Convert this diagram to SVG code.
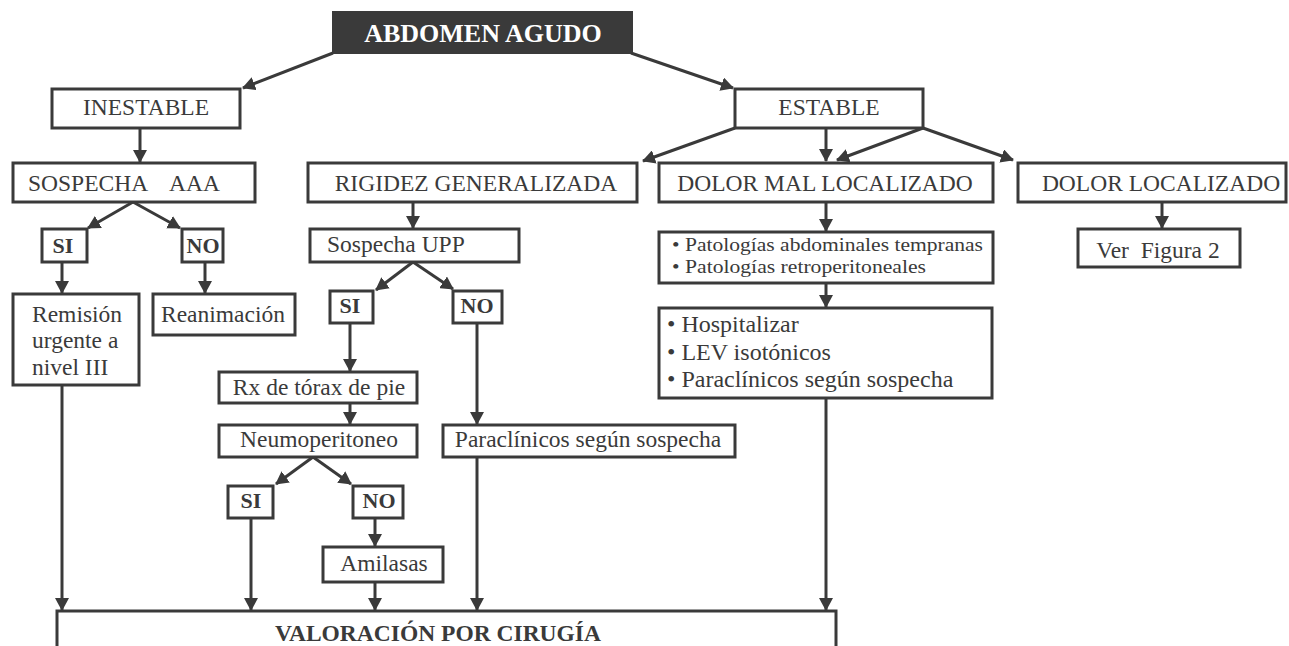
<svg xmlns="http://www.w3.org/2000/svg" width="1289" height="646" viewBox="0 0 1289 646">
<style>
rect.b{fill:#fff;stroke:#3a3a3a;stroke-width:3}
rect.d{fill:#3a3a3a;stroke:#3a3a3a;stroke-width:2}
text{font-family:"Liberation Serif","Times New Roman",serif;fill:#3a3a3a;font-size:23.5px}
text.c{text-anchor:middle}
text.bo{font-weight:bold;font-size:22px}
text.h{font-weight:bold;font-size:26px;fill:#fff}
text.v{font-weight:bold;font-size:23.5px}
text.s{font-size:19px}
text.m{font-size:24px}
#conn line{stroke:#3a3a3a;stroke-width:3;marker-end:url(#ah)}
</style>
<defs>
<marker id="ah" viewBox="0 0 13 14" markerWidth="13" markerHeight="14" refX="12" refY="7" orient="auto" markerUnits="userSpaceOnUse">
<path d="M0,0 L13,7 L0,14 z" fill="#3a3a3a"/>
</marker>
</defs>
<rect width="1289" height="646" fill="#fff"/>
<g id="conn">
<line x1="333" y1="53" x2="243" y2="88"/>
<line x1="631" y1="53" x2="733" y2="88"/>
<line x1="140" y1="128" x2="140" y2="162"/>
<line x1="735" y1="128" x2="643" y2="161"/>
<line x1="826" y1="128" x2="826" y2="161"/>
<line x1="923" y1="128" x2="837" y2="160"/>
<line x1="923" y1="128" x2="1013" y2="160"/>
<line x1="133" y1="202" x2="88" y2="228"/>
<line x1="133" y1="202" x2="180" y2="228"/>
<line x1="62" y1="262" x2="62" y2="293"/>
<line x1="205" y1="262" x2="205" y2="293"/>
<line x1="62" y1="385" x2="62" y2="610"/>
<line x1="413" y1="202" x2="413" y2="228"/>
<line x1="413" y1="262" x2="376" y2="290"/>
<line x1="413" y1="262" x2="453" y2="289"/>
<line x1="350" y1="323" x2="350" y2="371"/>
<line x1="350" y1="403" x2="350" y2="424"/>
<line x1="313" y1="457" x2="276" y2="484"/>
<line x1="313" y1="457" x2="351" y2="484"/>
<line x1="251" y1="518" x2="251" y2="610"/>
<line x1="375" y1="518" x2="375" y2="546"/>
<line x1="375" y1="582" x2="375" y2="610"/>
<line x1="477" y1="323" x2="477" y2="424"/>
<line x1="477" y1="457" x2="477" y2="610"/>
<line x1="826" y1="202" x2="826" y2="231"/>
<line x1="826" y1="283" x2="826" y2="307"/>
<line x1="826" y1="398" x2="826" y2="610"/>
<line x1="1162" y1="202" x2="1162" y2="228"/>
</g>
<g id="abdomen"><rect class="d" x="333" y="12" width="299" height="41"/><text class="h c" x="483" y="42">ABDOMEN AGUDO</text></g>
<g id="inestable"><rect class="b" x="52" y="89" width="188" height="39"/><text class="c" x="146" y="115">INESTABLE</text></g>
<g id="estable"><rect class="b" x="735" y="89" width="188" height="39"/><text class="c" x="829" y="115">ESTABLE</text></g>
<g id="sospecha-aaa"><rect class="b" x="13" y="163" width="242" height="39"/><text x="28" y="191" xml:space="preserve">SOSPECHA    AAA</text></g>
<g id="rigidez"><rect class="b" x="308" y="163" width="329" height="39"/><text class="c" x="476" y="191">RIGIDEZ GENERALIZADA</text></g>
<g id="dolor-mal"><rect class="b" x="659" y="163" width="334" height="39"/><text class="c" x="825" y="191">DOLOR MAL LOCALIZADO</text></g>
<g id="dolor-loc"><rect class="b" x="1018" y="163" width="268" height="39"/><text class="c" x="1161" y="191">DOLOR LOCALIZADO</text></g>
<g id="si1"><rect class="b" x="42" y="229" width="45" height="33"/><text class="bo c" x="63" y="253">SI</text></g>
<g id="no1"><rect class="b" x="182" y="229" width="41" height="33"/><text class="bo c" x="203" y="253">NO</text></g>
<g id="remision"><rect class="b" x="13" y="294" width="126" height="91"/><text x="32" y="322">Remisión</text><text x="32" y="348">urgente a</text><text x="32" y="375">nivel III</text></g>
<g id="reanimacion"><rect class="b" x="153" y="294" width="142" height="41"/><text class="c" x="223" y="322">Reanimación</text></g>
<g id="upp"><rect class="b" x="310" y="229" width="209" height="33"/><text x="327" y="252">Sospecha UPP</text></g>
<g id="si2"><rect class="b" x="330" y="291" width="43" height="32"/><text class="bo c" x="350" y="313">SI</text></g>
<g id="no2"><rect class="b" x="453" y="291" width="49" height="32"/><text class="bo c" x="477" y="313">NO</text></g>
<g id="rx"><rect class="b" x="219" y="372" width="198" height="31"/><text class="c" x="319" y="395">Rx de tórax de pie</text></g>
<g id="neumo"><rect class="b" x="219" y="425" width="198" height="32"/><text class="c" x="319" y="447">Neumoperitoneo</text></g>
<g id="si3"><rect class="b" x="228" y="486" width="45" height="32"/><text class="bo c" x="251" y="508">SI</text></g>
<g id="no3"><rect class="b" x="353" y="486" width="50" height="32"/><text class="bo c" x="379" y="508">NO</text></g>
<g id="amilasas"><rect class="b" x="323" y="547" width="120" height="35"/><text class="c" x="384" y="571">Amilasas</text></g>
<g id="paraclinicos"><rect class="b" x="443" y="425" width="292" height="32"/><text class="c" x="588" y="447">Paraclínicos según sospecha</text></g>
<g id="patologias"><rect class="b" x="659" y="232" width="334" height="51"/><text class="s" x="672" y="251" textLength="311" lengthAdjust="spacingAndGlyphs">• Patologías abdominales tempranas</text><text class="s" x="672" y="273" textLength="254" lengthAdjust="spacingAndGlyphs">• Patologías retroperitoneales</text></g>
<g id="hospitalizar"><rect class="b" x="659" y="308" width="333" height="90"/><text class="m" x="667" y="332">• Hospitalizar</text><text class="m" x="667" y="360">• LEV isotónicos</text><text class="m" x="667" y="387">• Paraclínicos según sospecha</text></g>
<g id="figura2"><rect class="b" x="1078" y="229" width="162" height="38"/><text class="c" x="1158" y="258" xml:space="preserve">Ver  Figura 2</text></g>
<g id="valoracion"><rect class="b" x="57" y="611" width="779" height="60"/><text class="v c" x="438" y="641">VALORACIÓN POR CIRUGÍA</text></g>
</svg>
